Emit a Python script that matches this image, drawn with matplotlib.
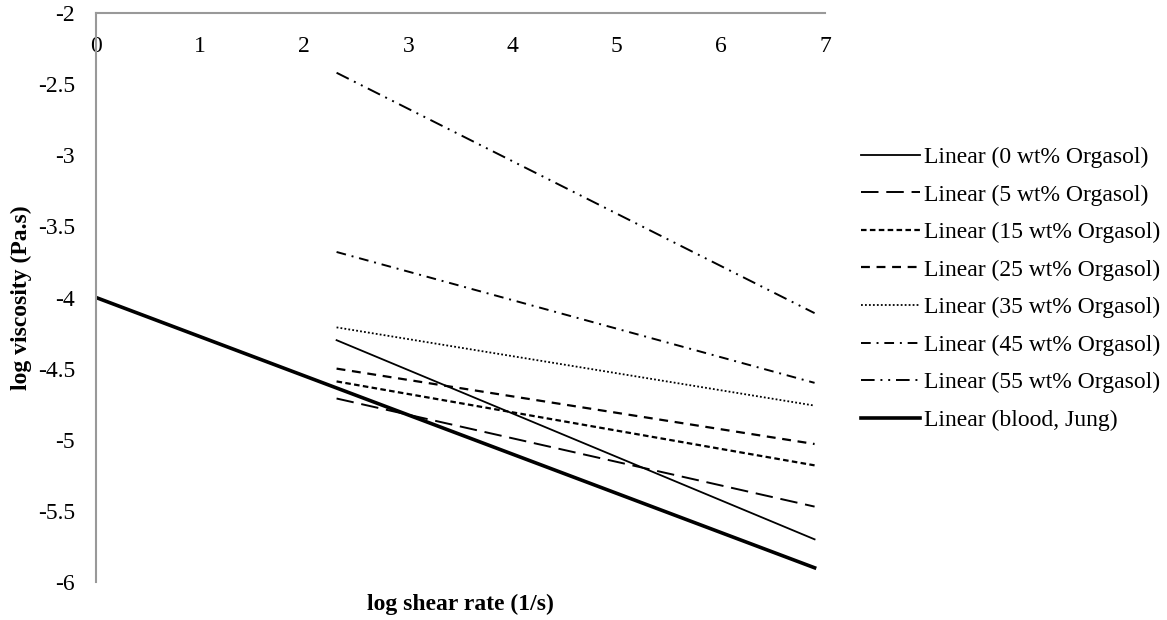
import matplotlib
matplotlib.use("Agg")
import matplotlib.pyplot as plt

# Data: linear fits (start/end points) in log-log space
x_fit = [2.31, 6.90]
labels = ["Linear (0 wt% Orgasol)", "Linear (5 wt% Orgasol)", "Linear (15 wt% Orgasol)",
          "Linear (25 wt% Orgasol)", "Linear (35 wt% Orgasol)", "Linear (45 wt% Orgasol)",
          "Linear (55 wt% Orgasol)", "Linear (blood, Jung)"]
y_0 = [-4.30, -5.70]
y_5 = [-4.71, -5.47]
y_15 = [-4.59, -5.18]
y_25 = [-4.50, -5.03]
y_35 = [-4.21, -4.76]
y_45 = [-3.68, -4.60]
y_55 = [-2.42, -4.11]
x_blood = [0.0, 6.90]
y_blood = [-4.00, -5.90]

x_ticks = [0, 1, 2, 3, 4, 5, 6, 7]
y_ticks = [-2, -2.5, -3, -3.5, -4, -4.5, -5, -5.5, -6]

plt.rcParams['font.family'] = ['Liberation Serif', 'DejaVu Serif']

fig = plt.figure(figsize=(11.67, 6.2), dpi=100)
ax = fig.add_axes([96/1167, 1-582/620, (825-96)/1167, (582-13)/620])

series = [
    (x_fit, y_0, dict(ls='-', lw=1.3)),
    (x_fit, y_5, dict(ls=(0, (9, 4)), lw=1.4)),
    (x_fit, y_15, dict(ls=(0, (2.5, 1.5)), lw=1.6)),
    (x_fit, y_25, dict(ls=(0, (4, 3)), lw=1.6)),
    (x_fit, y_35, dict(ls=(0, (1, 1.2)), lw=1.3)),
    (x_fit, y_45, dict(ls=(0, (5, 3, 1, 3)), lw=1.4)),
    (x_fit, y_55, dict(ls=(0, (7, 3, 1, 3, 1, 3)), lw=1.4)),
    (x_blood, y_blood, dict(ls='-', lw=2.6)),
]
for (xs, ys, st), lab in zip(series, labels):
    ax.plot(xs, ys, color='black', label=lab, **st)

ax.set_xlim(0, 7)
ax.set_ylim(-6, -2)
ax.set_xticks(x_ticks)
ax.set_xticklabels([str(v) for v in x_ticks])
ax.set_yticks(y_ticks)
ax.set_yticklabels([f"{v:g}" for v in y_ticks])

for s in ['right', 'bottom']:
    ax.spines[s].set_visible(False)
for s in ['left', 'top']:
    ax.spines[s].set_color('#999999')
    ax.spines[s].set_linewidth(1.5)

ax.xaxis.set_ticks_position('top')
ax.tick_params(axis='x', length=0, pad=-32, labelsize=17)
ax.tick_params(axis='y', length=0, pad=15, labelsize=17)

ax.set_ylabel("log viscosity (Pa.s)", fontsize=17, fontweight='bold', labelpad=4)
fig.text(460/1167, 1-604/620, "log shear rate (1/s)", fontsize=17,
         fontweight='bold', ha='center', va='center')

leg = fig.legend(loc='upper left', bbox_to_anchor=(852/1167, 1-137/620), frameon=False,
                 fontsize=17, handlelength=2.5, handletextpad=0.15, labelspacing=0.68,
                 borderaxespad=0)

fig.savefig("out.png", dpi=100)
